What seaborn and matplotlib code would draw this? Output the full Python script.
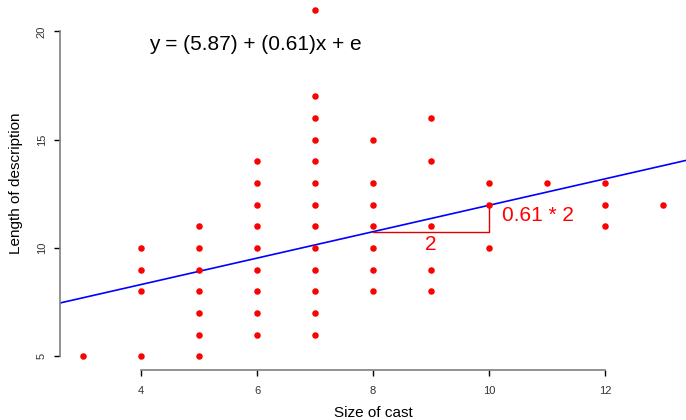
import numpy as np
import pandas as pd
import matplotlib
import matplotlib.pyplot as plt
import seaborn as sns

matplotlib.use('Agg')

# Size of cast (x) and length of description (y)
cast_size = [3,
             4, 4, 4, 4,
             5, 5, 5, 5, 5, 5, 5,
             6, 6, 6, 6, 6, 6, 6, 6, 6,
             7, 7, 7, 7, 7, 7, 7, 7, 7, 7, 7, 7, 7,
             8, 8, 8, 8, 8, 8, 8,
             9, 9, 9, 9, 9,
             10, 10, 10,
             11,
             12, 12, 12,
             13]
desc_length = [5,
               5, 8, 9, 10,
               5, 6, 7, 8, 9, 10, 11,
               6, 7, 8, 9, 10, 11, 12, 13, 14,
               6, 7, 8, 9, 10, 11, 12, 13, 14, 15, 16, 17, 21,
               8, 9, 10, 11, 12, 13, 15,
               8, 9, 11, 14, 16,
               10, 12, 13,
               13,
               11, 12, 13,
               12]

intercept = 5.87
slope = 0.61
x_ticks = [4, 6, 8, 10, 12]
y_ticks = [5, 10, 15, 20]

df = pd.DataFrame({'cast': cast_size, 'length': desc_length})

sns.set_style('white')
plt.rcParams['font.family'] = ['Liberation Sans', 'DejaVu Sans']
plt.rcParams['text.color'] = 'black'
plt.rcParams['axes.labelcolor'] = 'black'

fig = plt.figure(figsize=(6.86, 4.2), dpi=100)
ax = fig.add_axes([60 / 686, 50 / 420, 626 / 686, 374 / 420])

xlim = (2.6, 13.4)
ylim = (4.36, 21.64)

sns.scatterplot(data=df, x='cast', y='length', ax=ax, color='red', s=22,
                linewidth=0, zorder=3)

# fitted line
xs = np.array(xlim)
ax.plot(xs, intercept + slope * xs, color='blue', lw=1.2, zorder=2)

# slope triangle
y8 = intercept + slope * 8
y10 = intercept + slope * 10
ax.plot([8, 10, 10], [y8, y8, y10], color='#e00000', lw=1, zorder=2)
ax.text(9, y8 - 0.15, '2', color='red', fontsize=15, ha='center', va='top')
ax.text(10.22, 11.48, '0.61 * 2', color='red', fontsize=15, ha='left', va='center')

ax.text(5.97, 19.4, 'y = (5.87) + (0.61)x + e', fontsize=15, ha='center', va='center',
        color='black')

ax.set_xlim(*xlim)
ax.set_ylim(*ylim)
ax.set_xticks(x_ticks)
ax.set_yticks(y_ticks)
ax.set_yticklabels([str(t) for t in y_ticks], rotation=90, va='center')

for s in ['top', 'right']:
    ax.spines[s].set_visible(False)
ax.spines['bottom'].set_bounds(4, 12)
ax.spines['left'].set_bounds(5, 20)
for s in ['bottom', 'left']:
    ax.spines[s].set_color('#7f7f7f')
    ax.spines[s].set_linewidth(1.2)

ax.tick_params(axis='both', which='major', direction='out', length=4.5, width=1,
               color='black', labelsize=8, labelcolor='#333333',
               bottom=True, left=True)
ax.tick_params(axis='x', pad=7)
ax.tick_params(axis='y', pad=5)

ax.set_xlabel('Size of cast', fontsize=11, labelpad=7)
ax.set_ylabel('Length of description', fontsize=11, labelpad=10)

fig.savefig('out.png', dpi=100)
